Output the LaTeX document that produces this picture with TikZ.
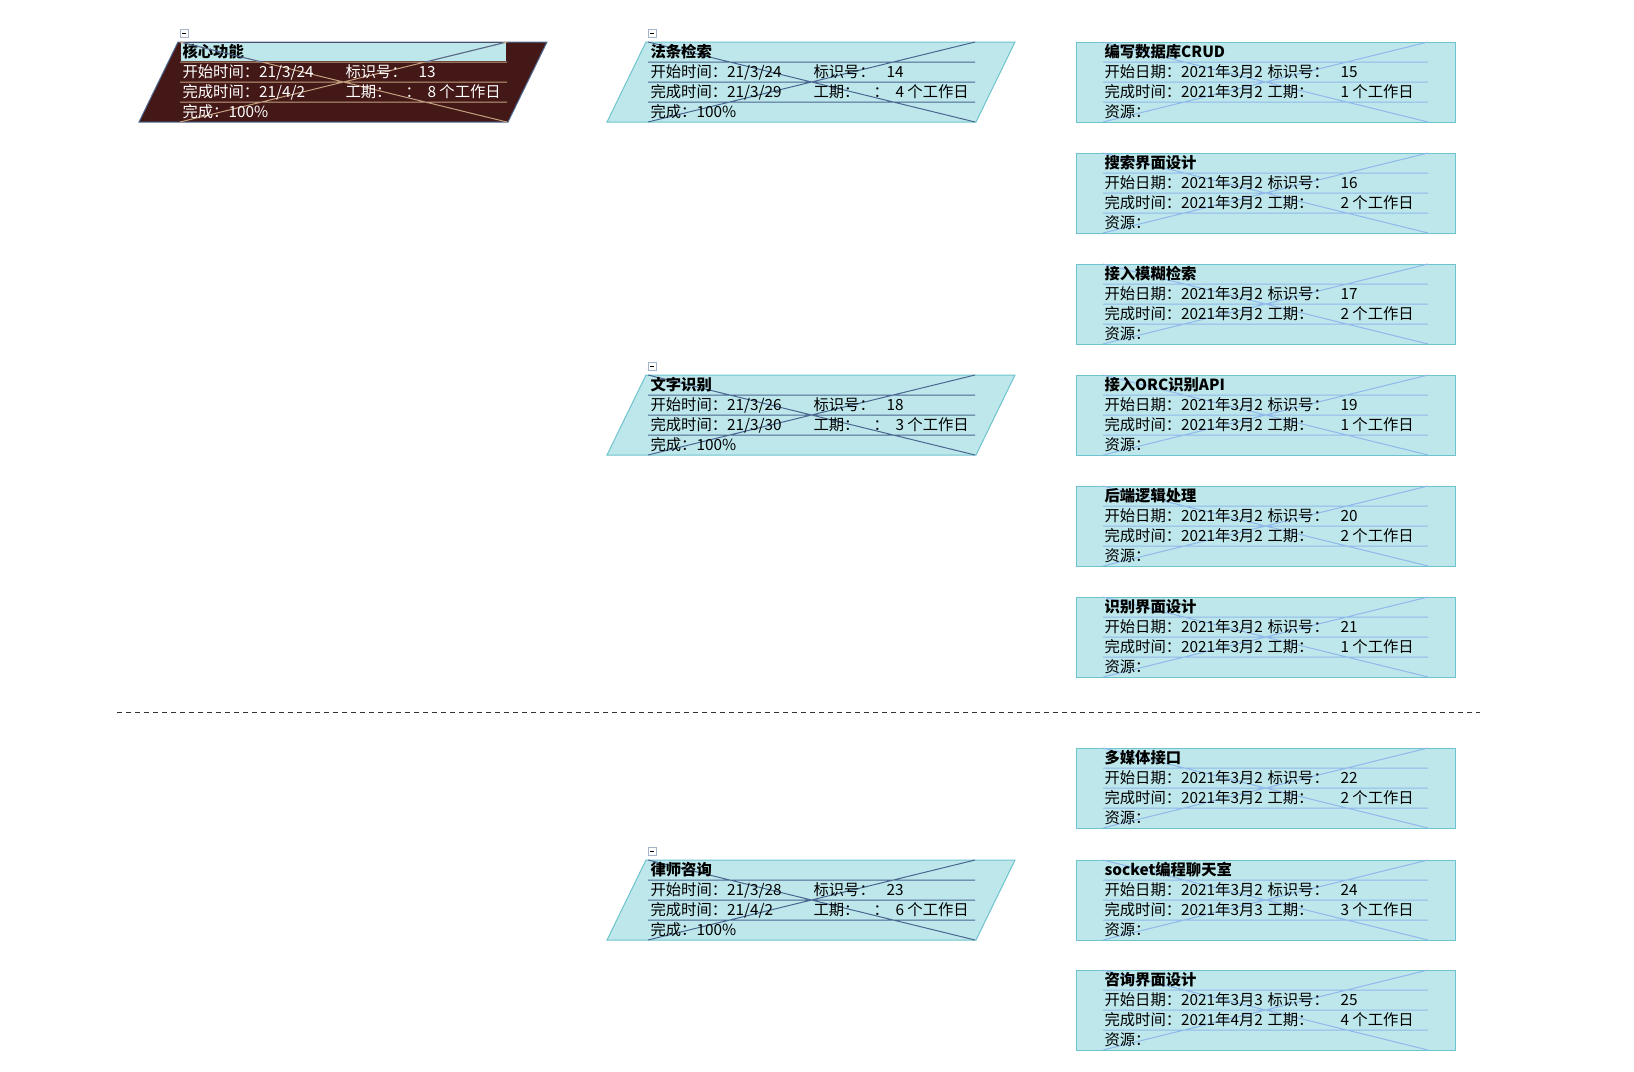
\documentclass[tikz,border=0pt]{standalone}
\usepackage{fontspec}
\setmainfont{Noto Sans CJK SC}
\usepackage{xcolor}
\definecolor{cardcyan}{HTML}{BDE7EB}
\definecolor{cardedge}{HTML}{6EC4CE}
\definecolor{subline}{HTML}{90B8EC}
\definecolor{sumline}{HTML}{4A6690}
\definecolor{coredark}{HTML}{431816}
\definecolor{coreedge}{HTML}{4E6C96}
\definecolor{coretan}{HTML}{C4A080}
\definecolor{boxgray}{HTML}{A4B4C8}
\usetikzlibrary{calc}

% summary task: name, inner left x, top, title, start, finish, id, days
\newcommand{\sumtask}[8]{%
  \coordinate (#1) at (#2,#3);
  \draw[collapse] (#1) ++(0,-13) rectangle ++(8,8);
  \draw[collapse,draw=black] (#1) ++(2,-9) -- ++(4,0);
  \draw[sumbox] (#1) ++(-2,0) -- ++(369,0) -- ++(-39,80) -- ++(-369,0) -- cycle;
  \path[titleband] (#1) ++(1,1) rectangle ++(325,18);
  \draw[sumgrid] (#1) -- ++(327,80) (#1) ++(0,80) -- ++(327,-80)
    (#1) ++(0,20) -- ++(327,0) (#1) ++(0,40) -- ++(327,0) (#1) ++(0,60) -- ++(327,0);
  \node[title] (#1-t) at ([shift={(2,15)}]#1) {#4};
  \node[cell] (#1-s) at ([shift={(2,35)}]#1) {开始时间：#5};
  \node[cell] (#1-f) at ([shift={(2,55)}]#1) {完成时间：#6};
  \node[cell] (#1-p) at ([shift={(2,75)}]#1) {完成：100\%};
  \node[cell] (#1-il) at ([shift={(165,35)}]#1) {标识号：};
  \node[cell] (#1-i) at ([shift={(238,35)}]#1) {#7};
  \node[cell] (#1-dl) at ([shift={(165,55)}]#1) {工期：};
  \node[cell] (#1-c) at ([shift={(225,55)}]#1) {：};
  \node[cell] (#1-d) at ([shift={(247,55)}]#1) {#8 个工作日};
}

% sub task: name, top, title, start, finish, id, days
\newcommand{\subtask}[7]{%
  \coordinate (#1) at (1103,#2);
  \draw[subbox] (#1) ++(-27,0) rectangle ++(379,80);
  \draw[subgrid] (#1) -- ++(325,80) (#1) ++(0,80) -- ++(325,-80)
    (#1) ++(0,20) -- ++(325,0) (#1) ++(0,40) -- ++(325,0) (#1) ++(0,60) -- ++(325,0);
  \node[title] (#1-t) at ([shift={(1,15)}]#1) {#3};
  \node[cell] (#1-s) at ([shift={(1,35)}]#1) {开始日期：#4};
  \node[cell] (#1-f) at ([shift={(1,55)}]#1) {完成时间：#5};
  \node[cell] (#1-r) at ([shift={(1,75)}]#1) {资源：};
  \node[cell] (#1-il) at ([shift={(164,35)}]#1) {标识号：};
  \node[cell] (#1-i) at ([shift={(237,35)}]#1) {#6};
  \node[cell] (#1-dl) at ([shift={(164,55)}]#1) {工期：};
  \node[cell] (#1-d) at ([shift={(237,55)}]#1) {#7 个工作日};
}

\begin{document}
\begin{tikzpicture}[x=0.75pt,y=-0.75pt,line width=0.75pt,
  cell/.style={anchor=base west,inner sep=0pt,font=\fontsize{11.5}{13}\selectfont},
  title/.style={anchor=base west,inner sep=0pt,font=\fontsize{11.5}{13}\selectfont\bfseries},
  collapse/.style={draw=boxgray,line width=0.6pt},
  sumbox/.style={fill=cardcyan,draw=cardedge},
  sumgrid/.style={draw=sumline},
  subbox/.style={fill=cardcyan,draw=cardedge},
  subgrid/.style={draw=subline},
  titleband/.style={},
  sep/.style={draw=black!80,dash pattern=on 3.75pt off 3pt}]
\useasboundingbox (0,0) rectangle (1634,1071);

% top level
\begin{scope}[sumbox/.style={fill=coredark,draw=coreedge},sumgrid/.style={draw=coretan},
  titleband/.style={fill=cardcyan},cell/.append style={text=white}]
\sumtask{core}{180}{42}{核心功能}{21/3/24}{21/4/2}{13}{8}
\end{scope}
\begin{scope}
\clip (core) ++(1,1) rectangle ++(325,18);
\draw[draw=coreedge] (core) -- ++(327,80) (core) ++(0,80) -- ++(327,-80);
\end{scope}

% second level
\sumtask{search}{648}{42}{法条检索}{21/3/24}{21/3/29}{14}{4}
\sumtask{ocr}{648}{375}{文字识别}{21/3/26}{21/3/30}{18}{3}
\sumtask{lawyer}{648}{860}{律师咨询}{21/3/28}{21/4/2}{23}{6}

% work packages
\subtask{crud}{42}{编写数据库CRUD}{2021年3月2}{2021年3月2}{15}{1}
\subtask{searchui}{153}{搜索界面设计}{2021年3月2}{2021年3月2}{16}{2}
\subtask{fuzzy}{264}{接入模糊检索}{2021年3月2}{2021年3月2}{17}{2}
\subtask{ocrapi}{375}{接入ORC识别API}{2021年3月2}{2021年3月2}{19}{1}
\subtask{backend}{486}{后端逻辑处理}{2021年3月2}{2021年3月2}{20}{2}
\subtask{ocrui}{597}{识别界面设计}{2021年3月2}{2021年3月2}{21}{1}
\subtask{media}{748}{多媒体接口}{2021年3月2}{2021年3月2}{22}{2}
\subtask{chat}{860}{socket编程聊天室}{2021年3月2}{2021年3月3}{24}{3}
\subtask{askui}{970}{咨询界面设计}{2021年3月3}{2021年4月2}{25}{4}

% page break
\coordinate (sepL) at (117,712);
\coordinate (sepR) at (1480,712);
\draw[sep] (sepL) -- (sepR);
\end{tikzpicture}
\end{document}
